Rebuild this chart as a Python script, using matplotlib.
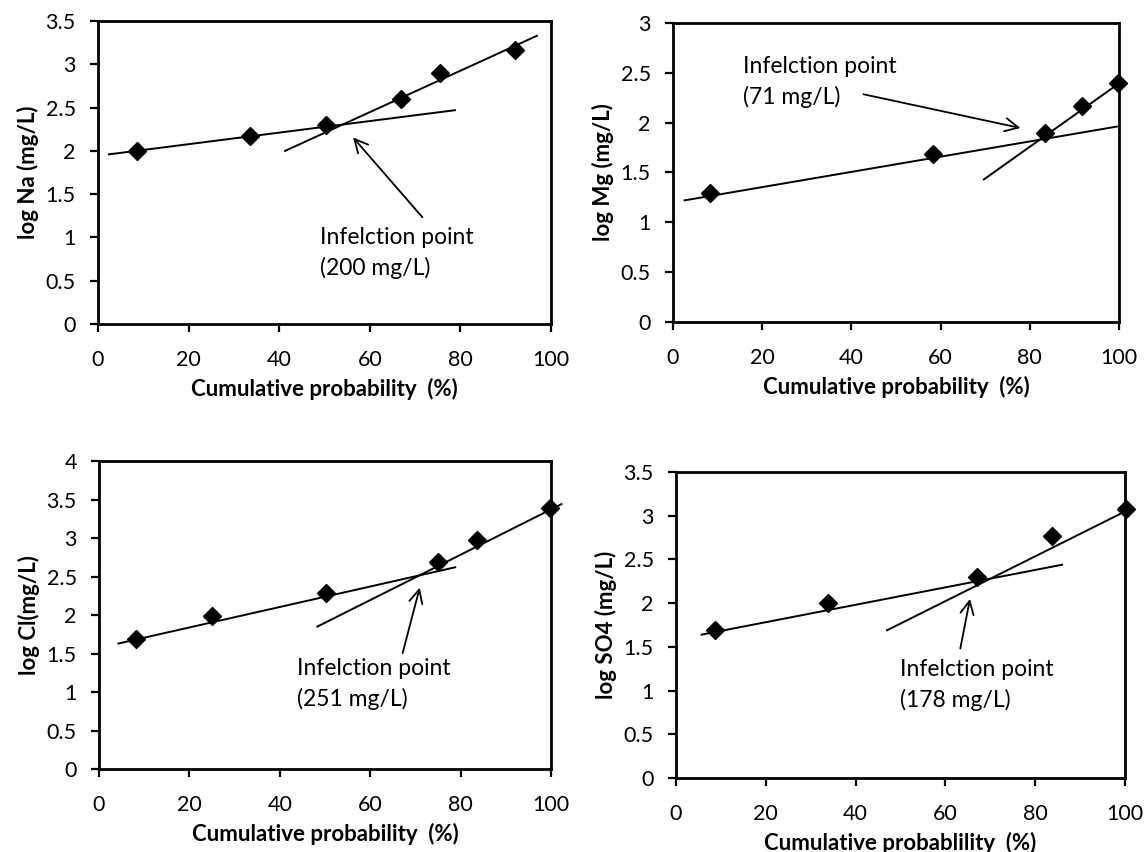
import matplotlib.pyplot as plt

plt.rcParams['font.family'] = ['Lato', 'DejaVu Sans']

# Cumulative probability (%) and log concentration for each ion
na_x = [8.5, 33.5, 50.3, 67.0, 75.4, 92.0]
na_y = [2.00, 2.17, 2.30, 2.60, 2.90, 3.17]
mg_x = [8.2, 58.4, 83.5, 91.8, 99.8]
mg_y = [1.29, 1.69, 1.90, 2.17, 2.40]
cl_x = [8.2, 24.9, 50.3, 74.9, 83.5, 99.8]
cl_y = [1.69, 1.99, 2.29, 2.69, 2.98, 3.39]
so4_x = [8.7, 33.8, 67.0, 83.8, 100.2]
so4_y = [1.69, 2.00, 2.30, 2.77, 3.08]

# Two fitted segments per ion: (x0, x1), (y0, y1)
na_fits = [((2.4, 78.8), (1.96, 2.47)), ((41.3, 96.9), (2.00, 3.33))]
mg_fits = [((2.6, 99.5), (1.22, 1.96)), ((69.7, 100.2), (1.43, 2.40))]
cl_fits = [((4.3, 78.8), (1.63, 2.62)), ((48.3, 102.3), (1.85, 3.44))]
so4_fits = [((5.7, 86.0), (1.64, 2.44)), ((47.0, 101.6), (1.69, 3.09))]

# Inflection point notes: text, text position, arrow tail, arrow tip
na_note = ('Infelction point\n(200 mg/L)', (49, 0.82), (72, 1.21), (55.9, 2.18))
mg_note = ('Infelction point\n(71 mg/L)', (15.8, 2.41), (42.1, 2.29), (78.5, 1.94))
cl_note = ('Infelction point\n(251 mg/L)', (43.7, 1.10), (67, 1.47), (71.1, 2.39))
so4_note = ('Infelction point\n(178 mg/L)', (49.8, 1.06), (63.2, 1.45), (65.6, 2.08))

panels = [
    ([0.0856, 0.6197, 0.3956, 0.3556], na_x, na_y, na_fits, na_note, 3.5,
     'log Na (mg/L)', 'Cumulative probability  (%)'),
    ([0.5878, 0.6221, 0.3895, 0.351], mg_x, mg_y, mg_fits, mg_note, 3.0,
     'log Mg (mg/L)', 'Cumulative probability  (%)'),
    ([0.0865, 0.0974, 0.3948, 0.3615], cl_x, cl_y, cl_fits, cl_note, 4.0,
     'log Cl(mg/L)', 'Cumulative probability  (%)'),
    ([0.5904, 0.0869, 0.3921, 0.359], so4_x, so4_y, so4_fits, so4_note, 3.5,
     'log SO4 (mg/L)', 'Cumulative probablility  (%)'),
]

fig = plt.figure(figsize=(11.45, 8.52), dpi=100)

for rect, xs, ys, fits, note, ymax, ylabel, xlabel in panels:
    ax = fig.add_axes(rect)
    for fx, fy in fits:
        ax.plot(fx, fy, color='black', lw=1.4, clip_on=False)
    ax.plot(xs, ys, 'D', color='black', ms=9, clip_on=False, zorder=3)

    text, tpos, apos, tip = note
    ax.text(tpos[0], tpos[1], text, fontsize=16.5, ha='left', va='center',
            linespacing=1.5)
    ax.annotate('', xy=tip, xytext=apos,
                arrowprops=dict(arrowstyle='->', lw=1.3, color='black',
                                mutation_scale=24))

    ax.set_xlim(0, 100)
    ax.set_ylim(0, ymax)
    ax.set_xticks(range(0, 101, 20))
    yt = [i * 0.5 for i in range(int(ymax * 2) + 1)]
    ax.set_yticks(yt)
    ax.set_yticklabels(['%g' % v for v in yt])
    for s in ax.spines.values():
        s.set_linewidth(2)
    ax.tick_params(direction='out', length=5.5, width=1.6, labelsize=15.5,
                   top=False, right=False)
    ax.tick_params(axis='x', pad=13)
    ax.tick_params(axis='y', pad=10.5)
    ax.set_xlabel(xlabel, fontsize=16, fontweight='bold', labelpad=6)
    ax.set_ylabel(ylabel, fontsize=16, fontweight='bold', labelpad=5)

fig.savefig('out.png', dpi=100)
